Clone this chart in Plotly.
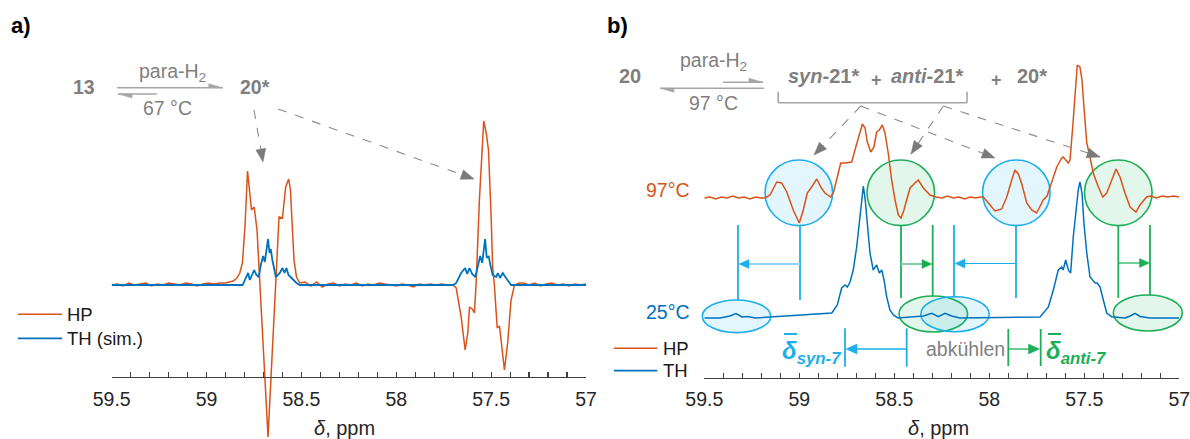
import math
import plotly.graph_objects as go

# ---------------- data ----------------
# panel a) HP spectrum (ppm, intensity a.u.)
hp_a_ppm = [59.50, 59.47, 59.44, 59.41, 59.38, 59.35, 59.32, 59.29, 59.26, 59.23, 59.20, 59.17, 59.14,
            59.11, 59.08, 59.05, 59.02, 58.99, 58.96, 58.93, 58.90, 58.88, 58.86, 58.84, 58.825, 58.811,
            58.797, 58.784, 58.773, 58.763, 58.749, 58.734, 58.676, 58.618, 58.600, 58.583, 58.567,
            58.558, 58.539, 58.526, 58.509, 58.48, 58.45, 58.42, 58.39, 58.36, 58.33, 58.30, 58.27,
            58.24, 58.21, 58.18, 58.15, 58.12, 58.09, 58.06, 58.03, 58.00, 57.97, 57.94, 57.91, 57.88,
            57.85, 57.82, 57.79, 57.76, 57.73, 57.702, 57.684, 57.658, 57.637, 57.623, 57.614, 57.600,
            57.588, 57.579, 57.562, 57.539, 57.526, 57.514, 57.500, 57.492, 57.483, 57.468, 57.456,
            57.430, 57.413, 57.395, 57.377, 57.351, 57.33, 57.30, 57.27, 57.24, 57.21, 57.18, 57.15,
            57.12, 57.09, 57.06, 57.03, 57.00]
hp_a_int = [0.00, 0.01, -0.01, 0.02, 0.00, 0.01, 0.02, -0.01, 0.01, 0.00, 0.02, 0.01, 0.00,
            0.02, 0.01, -0.01, 0.01, 0.02, 0.01, 0.02, 0.02, 0.03, 0.04, 0.07, 0.12, 0.22,
            0.60, 1.14, 0.92, 0.75, 0.78, 0.55, -1.52, 0.68, 0.67, 0.98, 1.06,
            0.95, 0.25, 0.08, 0.02, 0.03, -0.01, 0.03, -0.02, 0.01, 0.02, -0.01, 0.01,
            0.00, 0.02, -0.01, 0.01, 0.00, 0.02, 0.01, 0.00, -0.01, 0.01, 0.00, -0.02, 0.01,
            0.00, 0.01, 0.00, 0.01, 0.00, 0.00, -0.03, -0.32, -0.65, -0.48, -0.22, -0.24,
            -0.28, 0.02, 0.85, 1.64, 1.52, 1.35, 0.68, 0.18, 0.00, -0.43, -0.41,
            -0.85, -0.58, -0.15, 0.00, 0.02, 0.02, 0.00, 0.02, -0.01, 0.01, 0.02, 0.00,
            0.01, -0.01, 0.01, 0.00, 0.01]

# panel a) TH (simulated) spectrum
th_a_ppm = [59.50, 58.81, 58.798, 58.781, 58.772, 58.760, 58.749, 58.737, 58.725, 58.714, 58.702,
            58.693, 58.684, 58.676, 58.668, 58.662, 58.653, 58.646, 58.635, 58.614, 58.600, 58.589,
            58.579, 58.568, 58.553, 58.526, 58.509, 57.700, 57.684, 57.658, 57.637, 57.626, 57.614,
            57.600, 57.583, 57.571, 57.558, 57.547, 57.539, 57.532, 57.523, 57.513, 57.504, 57.492,
            57.474, 57.465, 57.453, 57.439, 57.425, 57.413, 57.395, 57.00]
th_a_int = [0.00, 0.00, 0.05, 0.12, 0.05, 0.11, 0.15, 0.10, 0.08, 0.20, 0.29,
            0.23, 0.35, 0.46, 0.32, 0.36, 0.25, 0.18, 0.08, 0.12, 0.17, 0.12,
            0.17, 0.10, 0.07, 0.02, 0.00, 0.00, 0.02, 0.12, 0.17, 0.11, 0.17,
            0.11, 0.08, 0.18, 0.29, 0.22, 0.37, 0.46, 0.27, 0.29, 0.20, 0.10,
            0.08, 0.12, 0.07, 0.12, 0.08, 0.05, 0.00, 0.00]

# panel b) HP spectrum at 97 °C
hp_b_ppm = [59.50, 59.47, 59.44, 59.41, 59.38, 59.35, 59.32, 59.29, 59.26, 59.23, 59.20, 59.181,
            59.154, 59.119, 59.093, 59.066, 59.032, 59.000, 58.979, 58.958, 58.935, 58.908, 58.887,
            58.865, 58.835, 58.821, 58.800, 58.782, 58.759, 58.724, 58.707, 58.681, 58.668, 58.654,
            58.642, 58.624, 58.607, 58.593, 58.579, 58.563, 58.549, 58.532, 58.514, 58.496, 58.479,
            58.465, 58.449, 58.435, 58.417, 58.391, 58.374, 58.347, 58.312, 58.28, 58.25, 58.22,
            58.19, 58.16, 58.13, 58.10, 58.07, 58.05, 58.032, 57.996, 57.970, 57.935, 57.908, 57.882,
            57.865, 57.847, 57.829, 57.803, 57.777, 57.751, 57.716, 57.696, 57.672, 57.645, 57.619,
            57.611, 57.584, 57.575, 57.561, 57.549, 57.537, 57.523, 57.512, 57.502, 57.487, 57.470,
            57.453, 57.426, 57.403, 57.382, 57.356, 57.333, 57.312, 57.286, 57.259, 57.228, 57.207,
            57.172, 57.15, 57.12, 57.09, 57.06, 57.03, 57.00]
hp_b_int = [0.00, 0.01, -0.01, 0.01, 0.00, 0.02, 0.00, 0.01, -0.01, 0.01, 0.00, 0.00,
            0.03, 0.16, 0.15, 0.06, -0.12, -0.25, -0.12, 0.05, 0.11, 0.19, 0.11,
            0.05, 0.01, 0.05, 0.21, 0.35, 0.35, 0.36, 0.48, 0.65, 0.74, 0.70,
            0.56, 0.46, 0.51, 0.66, 0.68, 0.73, 0.65, 0.45, 0.18, -0.02, -0.17,
            -0.20, -0.12, -0.02, 0.10, 0.15, 0.18, 0.10, 0.03, 0.01, 0.00, 0.02,
            0.00, 0.01, -0.01, 0.01, 0.00, 0.01, 0.01, -0.07, -0.13, -0.11, 0.01, 0.18,
            0.28, 0.24, 0.14, -0.05, -0.12, -0.15, -0.02, 0.02, 0.15, 0.31, 0.40,
            0.41, 0.35, 0.38, 0.71, 1.05, 1.33, 1.31, 1.18, 0.91, 0.55, 0.41,
            0.25, 0.11, 0.01, 0.05, 0.18, 0.29, 0.21, 0.05, -0.09, -0.14, -0.07,
            0.01, 0.02, 0.00, 0.02, 0.01, 0.02, 0.01]

# panel b) TH spectrum at 25 °C
th_b_ppm = [59.50, 59.417, 59.365, 59.333, 59.302, 59.270, 59.233, 58.829, 58.800, 58.777, 58.759,
            58.747, 58.733, 58.716, 58.698, 58.684, 58.672, 58.663, 58.653, 58.642, 58.628, 58.611,
            58.593, 58.579, 58.566, 58.554, 58.540, 58.523, 58.505, 58.481, 58.347, 58.303, 58.268,
            58.233, 58.198, 58.154, 57.733, 57.689, 57.663, 57.637, 57.619, 57.611, 57.598, 57.584,
            57.572, 57.558, 57.544, 57.532, 57.523, 57.512, 57.502, 57.487, 57.470, 57.456, 57.443,
            57.432, 57.417, 57.400, 57.382, 57.356, 57.286, 57.259, 57.233, 57.207, 57.155, 57.00]
th_b_int = [0.00, 0.00, 0.02, 0.045, 0.01, 0.015, 0.00, 0.05, 0.13, 0.30, 0.33,
            0.31, 0.36, 0.48, 0.71, 0.95, 1.18, 1.32, 1.18, 0.91, 0.65, 0.48,
            0.53, 0.45, 0.48, 0.38, 0.21, 0.08, 0.03, 0.00, 0.02, 0.047, 0.013,
            0.047, 0.02, 0.00, 0.01, 0.11, 0.28, 0.48, 0.51, 0.48, 0.58, 0.48,
            0.45, 0.81, 1.08, 1.28, 1.36, 1.25, 0.95, 0.65, 0.41, 0.38, 0.35,
            0.35, 0.31, 0.18, 0.05, 0.013, 0.00, 0.02, 0.047, 0.015, 0.00, 0.00]

tick_vals = [59.5, 59.0, 58.5, 58.0, 57.5, 57.0]
tick_text = ["59.5", "59", "58.5", "58", "57.5", "57"]
hp_offset_b = 1.20   # vertical stacking offset of the 97 °C trace

# ---------------- styling helpers ----------------
W, H = 1190, 439
FONT = "Liberation Sans, Arial, sans-serif"
ORANGE = "#D95319"
BLUE = "#0072BD"
GRAY_T = "#7F7F7F"
GRAY_L = "#A6A6A6"
CYAN = "#1DAFEA"
CYAN_L = "#8FD5F3"
GREEN = "#1CAF56"
GREEN_L = "#84D2A2"
AXC = "#404040"


def px(x):
    return x / W


def py(y):
    return 1 - y / H


shapes, annos = [], []


def seg(x0, y0, x1, y1, color, width=1.5, dash="solid"):
    shapes.append(dict(type="line", xref="paper", yref="paper", x0=px(x0), y0=py(y0),
                       x1=px(x1), y1=py(y1), line=dict(color=color, width=width, dash=dash),
                       layer="above"))


def poly(pts, color):
    d = "M " + " L ".join(f"{px(x):.5f},{py(y):.5f}" for x, y in pts) + " Z"
    shapes.append(dict(type="path", xref="paper", yref="paper", path=d, fillcolor=color,
                       line=dict(color=color, width=0.5), layer="above"))


def head(tx, ty, fx, fy, color, L=10.0, Wd=8.0, half=0):
    dx, dy = tx - fx, ty - fy
    n = math.hypot(dx, dy)
    ux, uy = dx / n, dy / n
    bx, by = tx - ux * L, ty - uy * L
    nx, ny = -uy, ux
    if half == 0:
        pts = [(tx, ty), (bx + nx * Wd / 2, by + ny * Wd / 2), (bx - nx * Wd / 2, by - ny * Wd / 2)]
    else:
        pts = [(tx, ty), (bx + nx * Wd * half, by + ny * Wd * half), (bx, by)]
    poly(pts, color)


def dashed_arrow(x0, y0, x1, y1):
    seg(x0, y0, x1, y1, "#8C8C8C", 1.1, "dash")
    head(x1, y1, x0, y0, "#7A7A7A", L=13, Wd=10)


def ell(cx, cy, rx, ry, line, fill):
    shapes.append(dict(type="circle", xref="paper", yref="paper", x0=px(cx - rx), x1=px(cx + rx),
                       y0=py(cy + ry), y1=py(cy - ry), line=dict(color=line, width=1.6),
                       fillcolor=fill, layer="below"))


def txt(x, y, s, size, color, xanchor="center", yanchor="middle", family=FONT):
    annos.append(dict(x=px(x), y=py(y), xref="paper", yref="paper", text=s, showarrow=False,
                      font=dict(size=size, color=color, family=family), xanchor=xanchor,
                      yanchor=yanchor, borderpad=0))


# ---------------- figure ----------------
fig = go.Figure()
fig.add_trace(go.Scatter(x=hp_a_ppm, y=hp_a_int, mode="lines", line=dict(color=ORANGE, width=1.5),
                         xaxis="x", yaxis="y", showlegend=False))
fig.add_trace(go.Scatter(x=th_a_ppm, y=th_a_int, mode="lines", line=dict(color=BLUE, width=1.8),
                         xaxis="x", yaxis="y", showlegend=False))
fig.add_trace(go.Scatter(x=hp_b_ppm, y=[v + hp_offset_b for v in hp_b_int], mode="lines",
                         line=dict(color=ORANGE, width=1.5), xaxis="x2", yaxis="y2", showlegend=False))
fig.add_trace(go.Scatter(x=th_b_ppm, y=th_b_int, mode="lines", line=dict(color=BLUE, width=1.5),
                         xaxis="x2", yaxis="y2", showlegend=False))


def xaxis(dom, ypix):
    return dict(domain=[px(dom[0]), px(dom[1])], range=[59.5, 57.0], anchor="free",
                position=py(ypix), showline=True, linecolor=AXC, linewidth=1.3,
                ticks="inside", ticklen=5, tickwidth=1.2, tickcolor=AXC,
                tickmode="array", tickvals=tick_vals, ticktext=tick_text,
                tickfont=dict(size=19.5, color="#262626", family=FONT),
                minor=dict(dtick=0.1, tick0=57.0, ticks="inside", ticklen=5, tickwidth=1.2,
                           tickcolor=AXC, showgrid=False),
                showgrid=False, zeroline=False, ticklabelstandoff=4, fixedrange=True,
                automargin=False, ticklabeloverflow="allow")


# ---------- panel a) decorations ----------
txt(21, 25, "<b>a)</b>", 22, "#000000")
txt(83.5, 87, "<b>13</b>", 19.5, GRAY_T)
txt(138, 72, "para-H<sub>2</sub>", 19.5, GRAY_T, xanchor="left")
seg(117, 87.7, 222.7, 87.7, GRAY_L, 1.6)
head(222.7, 87.7, 117, 87.7, GRAY_L, L=14, Wd=4, half=-1)
seg(118, 94, 156.7, 94, GRAY_L, 1.6)
head(118, 94, 156.7, 94, GRAY_L, L=14, Wd=4, half=-1)
txt(167.7, 108.3, "67 °C", 19.5, GRAY_T)
txt(254.5, 87, "<b>20*</b>", 19.5, GRAY_T)
dashed_arrow(254, 110, 263, 162)
dashed_arrow(278, 109, 474, 179)
# legend a)
seg(18, 314.3, 62, 314.3, ORANGE, 1.5)
txt(66, 314.3, "HP", 18.5, "#1A1A1A", xanchor="left")
seg(18, 338.3, 62, 338.3, BLUE, 1.8)
txt(66, 338.3, "TH (sim.)", 18.5, "#1A1A1A", xanchor="left")
txt(344, 428, "<i>δ</i>, ppm", 20, "#262626")

# ---------- panel b) decorations ----------
txt(617, 25, "<b>b)</b>", 22, "#000000")
txt(630.4, 76, "<b>20</b>", 20, GRAY_T)
txt(679, 62, "para-H<sub>2</sub>", 19.5, GRAY_T, xanchor="left")
seg(723, 82.3, 763, 82.3, GRAY_L, 1.6)
head(763, 82.3, 723, 82.3, GRAY_L, L=14, Wd=4, half=-1)
seg(660, 88.3, 764, 88.3, GRAY_L, 1.6)
head(660, 88.3, 764, 88.3, GRAY_L, L=14, Wd=4, half=-1)
txt(713, 103.3, "97 °C", 19.5, GRAY_T)
txt(786.5, 76, "<b><i>syn</i>-21*</b>", 20, GRAY_T, xanchor="left")
txt(876, 80, "<b>+</b>", 18, GRAY_T)
txt(889.7, 76, "<b><i>anti</i>-21*</b>", 20, GRAY_T, xanchor="left")
txt(996, 80, "<b>+</b>", 18, GRAY_T)
txt(1015.6, 76, "<b>20*</b>", 20, GRAY_T, xanchor="left")
# bracket
seg(778.2, 91.7, 778.2, 102.7, GRAY_L, 1.6)
seg(778.2, 102.7, 967, 102.7, GRAY_L, 1.6)
seg(967, 102.7, 967, 91.7, GRAY_L, 1.6)
dashed_arrow(860.8, 106, 814, 155)
dashed_arrow(860.8, 106, 995, 158)
dashed_arrow(943.3, 106, 911, 154)
dashed_arrow(943.3, 106, 1100, 157)

# circles around HP signals
BF = "rgba(0,170,235,0.11)"
GF = "rgba(0,170,80,0.11)"
ell(798.8, 192.8, 33.8, 32.8, CYAN, BF)
ell(900.8, 192.8, 33.8, 32.8, GREEN, GF)
ell(1016.3, 192.8, 33.8, 32.8, CYAN, BF)
ell(1118.3, 192.8, 33.8, 32.8, GREEN, GF)
# ellipses around TH signals
ell(736.5, 316.3, 34.2, 16.3, CYAN, BF)
ell(933.3, 314.0, 34.3, 18.0, GREEN, GF)
ell(955.0, 314.2, 34.2, 17.5, CYAN, BF)
ell(1147.8, 313.0, 34.5, 18.0, GREEN, GF)

# guide lines and shift arrows
seg(800, 225.7, 800, 300, CYAN, 1.8)
seg(738, 225, 738, 300, CYAN, 1.8)
seg(800, 264, 748, 264, CYAN_L, 2)
head(739, 264, 800, 264, CYAN, L=10, Wd=9)
seg(901, 225.7, 901, 298, GREEN, 1.8)
seg(932.7, 225, 932.7, 296.5, GREEN, 1.8)
seg(901, 264, 923, 264, GREEN_L, 2)
head(932, 264, 901, 264, GREEN, L=10, Wd=9)
seg(954, 225, 954, 297, CYAN, 1.8)
seg(1016, 225.7, 1016, 298, CYAN, 1.8)
seg(1016, 263.5, 963, 263.5, CYAN, 1.2)
head(955, 263.5, 1016, 263.5, CYAN, L=10, Wd=9)
seg(1118.3, 225.7, 1118.3, 298, GREEN, 1.8)
seg(1150, 225, 1150, 295, GREEN, 1.8)
seg(1118.3, 263, 1141, 263, GREEN, 1.2)
head(1149.5, 263, 1118.3, 263, GREEN, L=10, Wd=9)

# bottom "abkühlen" arrows
seg(845, 328.3, 845, 366.7, CYAN, 1.8)
seg(906.7, 328.3, 906.7, 366.7, CYAN, 1.8)
seg(906.7, 349, 856, 349, CYAN, 1.3)
head(846, 349, 906.7, 349, CYAN, L=11, Wd=10)
txt(965.5, 349, "abkühlen", 19.5, GRAY_T)
seg(1008.3, 329, 1008.3, 366, GREEN, 1.8)
seg(1040.7, 329, 1040.7, 366, GREEN, 1.8)
seg(1008.3, 349, 1029, 349, GREEN, 1.3)
head(1039.5, 349, 1008.3, 349, GREEN, L=11, Wd=10)
txt(781, 352, "<b><i>δ<sub>syn-7</sub></i></b>", 24, CYAN, xanchor="left")
seg(784, 334, 797, 334, CYAN, 2)
txt(1045, 352, "<b><i>δ<sub>anti-7</sub></i></b>", 24, GREEN, xanchor="left")
seg(1048, 334, 1061, 334, GREEN, 2)

txt(668, 190, "97°C", 19.5, ORANGE)
txt(668, 312.3, "25°C", 19.5, "#0070C0")
# legend b)
seg(614, 348.3, 657.3, 348.3, ORANGE, 1.5)
txt(661.7, 348.3, "HP", 18.5, "#1A1A1A", xanchor="left")
seg(614, 370.7, 657.3, 370.7, BLUE, 1.8)
txt(661.7, 370.7, "TH", 18.5, "#1A1A1A", xanchor="left")
txt(938, 428, "<i>δ</i>, ppm", 20, "#262626")

fig.update_layout(
    template="none",
    width=W, height=H, autosize=False,
    margin=dict(l=0, r=0, t=0, b=0, pad=0, autoexpand=False),
    paper_bgcolor="white", plot_bgcolor="rgba(0,0,0,0)",
    font=dict(family=FONT),
    showlegend=False,
    xaxis=xaxis((111.7, 586.0), 377.0),
    yaxis=dict(domain=[0, 1], range=[-1.54, 2.85], anchor="x", visible=False, fixedrange=True,
               automargin=False),
    xaxis2=xaxis((704.3, 1179.3), 377.7),
    yaxis2=dict(domain=[0, 1], range=[-1.21, 3.18], anchor="x2", visible=False, fixedrange=True,
                automargin=False),
    shapes=shapes,
    annotations=annos,
)

fig.write_html("out.html", config={"displayModeBar": False, "staticPlot": True},
               post_script="document.body.style.margin='0';document.body.style.overflow='hidden';")
